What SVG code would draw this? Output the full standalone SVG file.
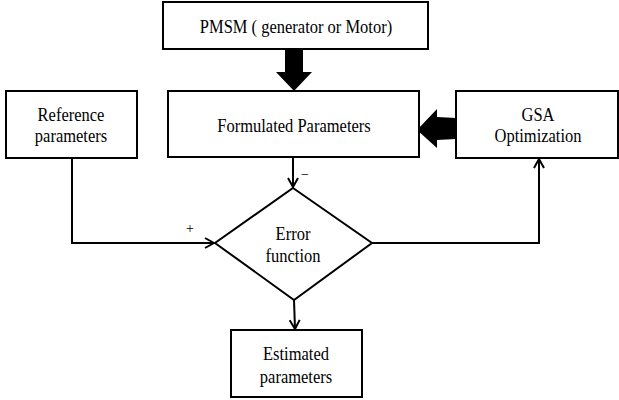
<svg xmlns="http://www.w3.org/2000/svg" width="619" height="400" viewBox="0 0 619 400">
<defs>
<style>
.box{fill:#fff;stroke:#000;stroke-width:2}
.t{font-family:'Liberation Serif','Times New Roman',serif;font-size:16.5px;fill:#000;text-anchor:middle}
.s{font-family:'Liberation Serif','Times New Roman',serif;font-size:14px;fill:#000;text-anchor:middle}
.ln{fill:none;stroke:#000;stroke-width:2}
.big{fill:#000;stroke:none}
</style>
<marker id="ah" viewBox="0 0 12 12" refX="11" refY="6" markerWidth="12" markerHeight="12" markerUnits="userSpaceOnUse" orient="auto">
<polyline points="2,1 11,6 2,11" fill="none" stroke="#000" stroke-width="2"/>
</marker>
</defs>
<rect width="619" height="400" fill="#fff"/>
<g id="connectors">
<polygon class="big" points="285,49 303,49 303,72 312,72 294,91 276,72 285,72"/>
<polygon class="big" points="456,118 456,139 437,140 437,148 417,130 437,109 437,117"/>
<polyline class="ln" points="293,157 293,187" marker-end="url(#ah)"/>
<polyline class="ln" points="72,158 72,243 214,243" marker-end="url(#ah)"/>
<polyline class="ln" points="372,243 539,243 539,159" marker-end="url(#ah)"/>
<polyline class="ln" points="294,300 295,329" marker-end="url(#ah)"/>
<text class="s" x="190" y="233">+</text>
<text class="s" x="305" y="179">−</text>
</g>
<g id="pmsm">
<rect class="box" x="163" y="2" width="265" height="47"/>
<text class="t" transform="translate(296,33) scale(1,1.18)">PMSM ( generator or Motor)</text>
</g>
<g id="formulated">
<rect class="box" x="168" y="91" width="251" height="66"/>
<text class="t" transform="translate(294,132) scale(1,1.18)">Formulated Parameters</text>
</g>
<g id="reference">
<rect class="box" x="6" y="91" width="131" height="67"/>
<text class="t" transform="translate(71,121) scale(1,1.18)">Reference</text>
<text class="t" transform="translate(71,142) scale(1,1.18)">parameters</text>
</g>
<g id="gsa">
<rect class="box" x="456" y="91" width="162" height="67"/>
<text class="t" transform="translate(538,121) scale(1,1.18)">GSA</text>
<text class="t" transform="translate(538,142) scale(1,1.18)">Optimization</text>
</g>
<g id="error">
<polygon class="box" points="293,188 372,243 294,300 215,243"/>
<text class="t" transform="translate(293,240) scale(1,1.18)">Error</text>
<text class="t" transform="translate(293,262) scale(1,1.18)">function</text>
</g>
<g id="estimated">
<rect class="box" x="231" y="330" width="131" height="67"/>
<text class="t" transform="translate(296,360) scale(1,1.18)">Estimated</text>
<text class="t" transform="translate(296,383) scale(1,1.18)">parameters</text>
</g>
</svg>
